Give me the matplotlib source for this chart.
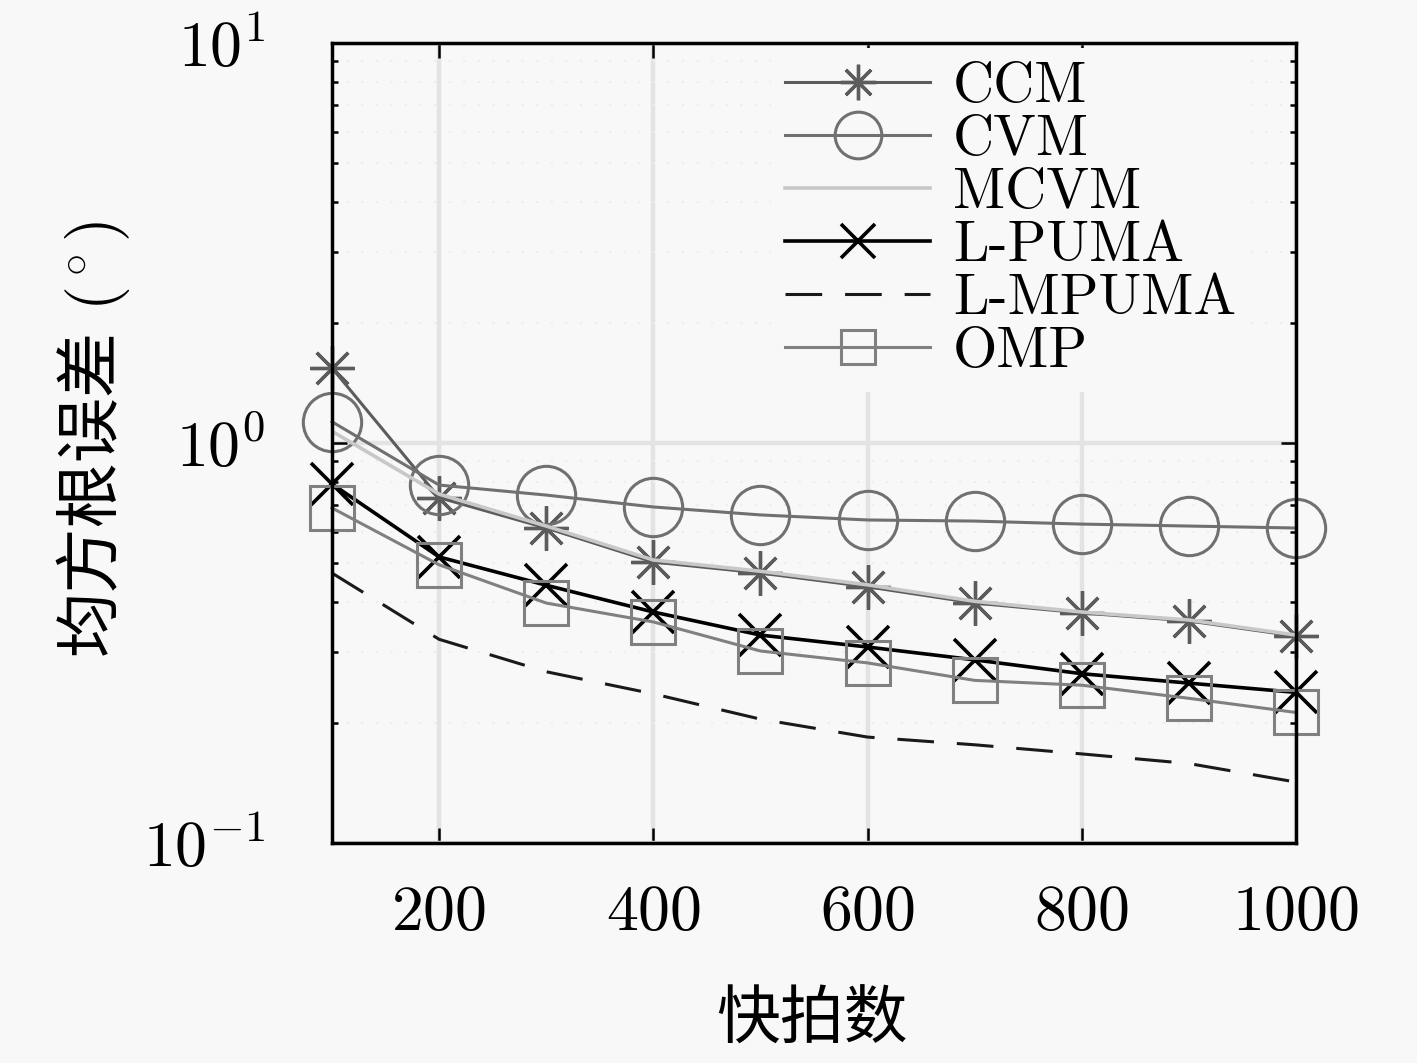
import numpy as np
import matplotlib
matplotlib.use("Agg")
import matplotlib.pyplot as plt
from matplotlib.ticker import LogLocator, NullFormatter, FixedLocator

plt.rcParams["font.family"] = ["cmr10", "Noto Sans CJK SC"]
plt.rcParams["mathtext.fontset"] = "cm"
plt.rcParams["axes.unicode_minus"] = False
plt.rcParams["axes.formatter.use_mathtext"] = True

# snapshots
snapshots = [100, 200, 300, 400, 500, 600, 700, 800, 900, 1000]

# RMSE (deg)
ccm = [1.54, 0.73, 0.613, 0.504, 0.473, 0.437, 0.398, 0.376, 0.359, 0.329]
cvm = [1.13, 0.785, 0.741, 0.692, 0.661, 0.642, 0.638, 0.627, 0.620, 0.613]
mcvm = [1.07, 0.745, 0.62, 0.51, 0.478, 0.442, 0.402, 0.378, 0.361, 0.331]
lpuma = [0.79, 0.519, 0.441, 0.378, 0.331, 0.309, 0.287, 0.265, 0.251, 0.238]
lmpuma = [0.473, 0.323, 0.268, 0.236, 0.204, 0.184, 0.176, 0.167, 0.158, 0.142]
omp = [0.688, 0.496, 0.398, 0.357, 0.302, 0.282, 0.255, 0.248, 0.230, 0.212]

labels = ["CCM", "CVM", "MCVM", "L-PUMA", "L-MPUMA", "OMP"]

bg = "#f8f8f8"
fig = plt.figure(figsize=(14.17, 10.63), dpi=100, facecolor=bg)
ax = fig.add_axes([332 / 1417, 220 / 1063, 964 / 1417, 800 / 1063])
ax.set_facecolor(bg)

ax.plot(snapshots, ccm, color="#5c5c5c", lw=2.2, marker=(8, 2, 0), ms=32,
        mew=2.4, label=labels[0], zorder=3, clip_on=False)
ax.plot(snapshots, cvm, color="#707070", lw=2.2, marker="o", ms=42,
        mfc="none", mew=2.2, label=labels[1], zorder=3, clip_on=False)
ax.plot(snapshots, mcvm, color="#c8c8c8", lw=2.6, label=labels[2], zorder=3)
ax.plot(snapshots, lpuma, color="black", lw=2.6, marker="x", ms=30,
        mew=2.6, label=labels[3], zorder=3, clip_on=False)
ax.plot(snapshots, lmpuma, color="#1a1a1a", lw=2.2, ls=(0, (12, 7.5)),
        label=labels[4], zorder=3)
ax.plot(snapshots, omp, color="#808080", lw=2.2, marker="s", ms=31,
        mfc="none", mew=2.2, label=labels[5], zorder=3, clip_on=False)

ax.set_yscale("log")
ax.set_xlim(100, 1000)
ax.set_ylim(0.1, 10)
ax.xaxis.set_major_locator(FixedLocator([200, 400, 600, 800, 1000]))
ax.yaxis.set_major_locator(LogLocator(base=10, numticks=5))
ax.yaxis.set_minor_locator(LogLocator(base=10, subs=np.arange(2, 10), numticks=20))
ax.yaxis.set_minor_formatter(NullFormatter())

# grid
ax.grid(True, which="major", color="#e3e3e3", lw=3.2, zorder=0)
ax.grid(True, which="minor", axis="y", color="#ededed", lw=1.5, ls=(0, (1, 6)))
ax.set_axisbelow(True)

for s in ax.spines.values():
    s.set_linewidth(2.5)
    s.set_zorder(6)
ax.tick_params(which="both", direction="in", top=True, right=True, width=1.8)
ax.tick_params(which="major", length=11)
ax.tick_params(which="minor", length=4)
ax.tick_params(axis="x", labelsize=46, pad=30)
ax.tick_params(axis="y", labelsize=46, pad=48)

leg = ax.legend(loc="upper left", bbox_to_anchor=(771 / 1417, 1 - 48 / 1063),
                bbox_transform=fig.transFigure, frameon=True, fontsize=41,
                handlelength=2.55, handletextpad=0.4, labelspacing=0.03,
                borderpad=0.25, borderaxespad=0, markerscale=0.8)
leg.get_frame().set_facecolor(bg)
leg.get_frame().set_edgecolor("none")
leg.get_frame().set_alpha(1)
leg.set_zorder(5)

fig.text(812 / 1417, 1 - 1020 / 1063, "快拍数", fontsize=46,
         family=["Noto Sans CJK SC"], ha="center", va="center")
fig.text(92 / 1417, 1 - 492 / 1063, "均方根误差", fontsize=47,
         family=["Noto Sans CJK SC"], rotation=90, ha="center", va="center")
fig.text(97 / 1417, 1 - 266 / 1063, r"$(^\circ)$", fontsize=46,
         rotation=90, ha="center", va="center")

fig.savefig("out.png", dpi=100, facecolor=bg)
